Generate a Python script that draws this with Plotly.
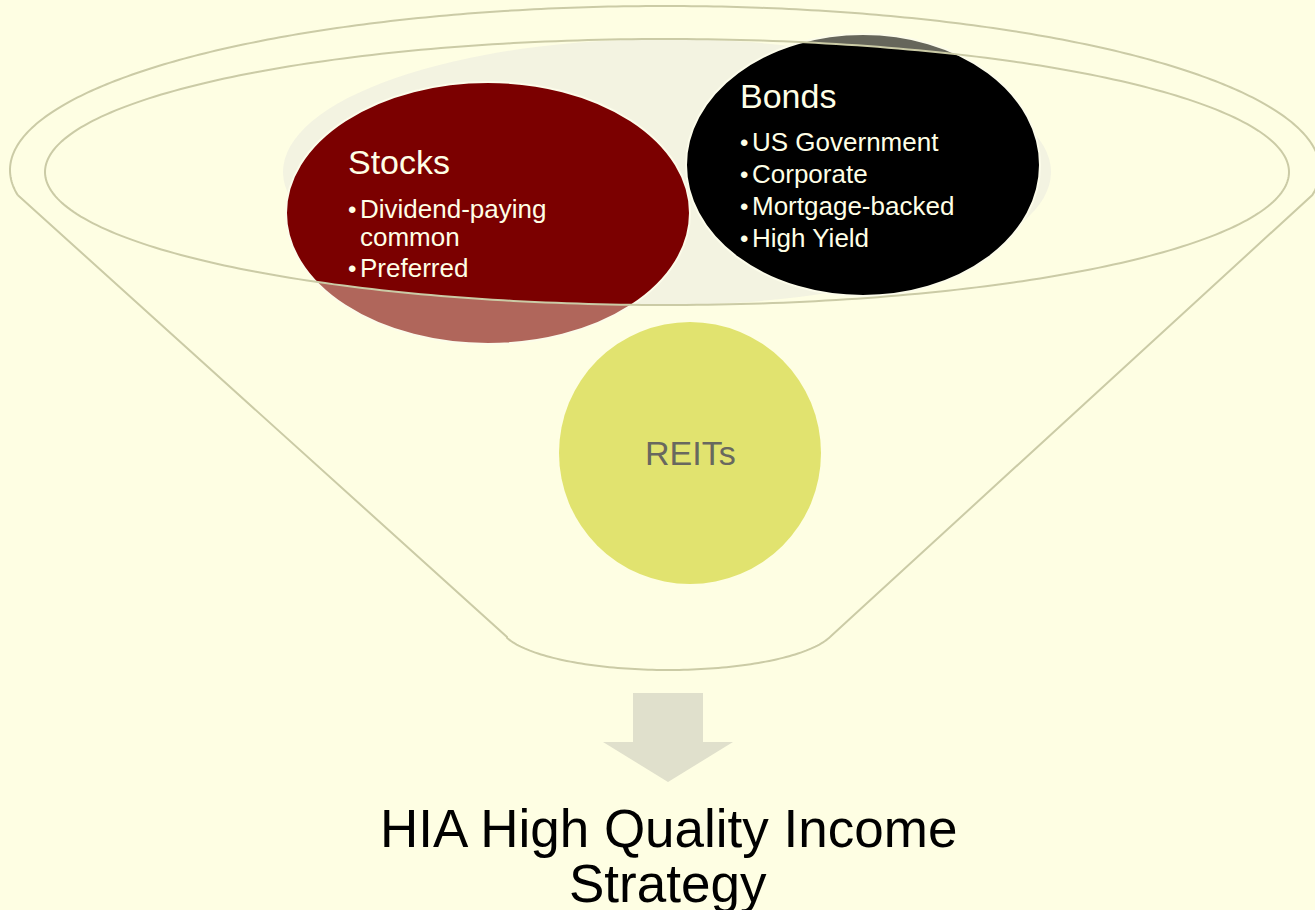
"""Funnel diagram: income strategy building blocks"""
import numpy as np
import plotly.graph_objects as go

W, H = 1315, 910
BG = "#FEFEE3"
LINE = "#CBCBA6"
CREAM = "#FFFFE6"
FONT = "Liberation Sans, Arial, sans-serif"

# text content
TITLE_LINES = ["HIA High Quality Income", "Strategy"]
STOCK_TITLE = "Stocks"
STOCK_LINES = ["Dividend-paying", "common", "Preferred"]
STOCK_BULLET = [True, False, True]
BOND_TITLE = "Bonds"
BOND_LINES = ["US Government", "Corporate", "Mortgage-backed", "High Yield"]
BOND_BULLET = [True, True, True, True]
REIT_LABEL = "REITs"

# geometry (cx, cy, rx, ry) in pixel space
OUTER = (665, 170, 655, 164)
INNER = (667, 172, 622, 133)
GLOW = (667, 172, 384, 133)
STOCKS = (488, 213, 202, 131)
BONDS = (863, 165, 177, 131)
REITS = (690, 453, 131, 131)
NECK = (668, 625, 168, 45)
JOIN_Y = 195
NECK_L, NECK_R = (507, 637), (830, 637)


def ell_pts(e, t0=0.0, t1=2 * np.pi, n=240):
    cx, cy, rx, ry = e
    t = np.linspace(t0, t1, n)
    return cx + rx * np.cos(t), cy + ry * np.sin(t)


def half_height(e, x):
    cx, cy, rx, ry = e
    u = np.clip((x - cx) / rx, -1, 1)
    return ry * np.sqrt(1 - u ** 2)


def to_path(xs, ys, close=True):
    p = "M " + " L ".join(f"{x:.2f},{y:.2f}" for x, y in zip(xs, ys))
    return p + (" Z" if close else "")


def ell_shape(e, fill, opacity=1.0, line_color=None, line_width=0):
    cx, cy, rx, ry = e
    return dict(type="circle", xref="x", yref="y", x0=cx - rx, x1=cx + rx,
                y0=cy - ry, y1=cy + ry, fillcolor=fill, opacity=opacity,
                line=dict(color=line_color or fill, width=line_width), layer="above")


shapes = []

# soft glow inside the funnel mouth
shapes.append(ell_shape(GLOW, "#F3F3E1"))

# funnel outline: outer rim arc, sides, neck
a = np.arcsin((JOIN_Y - OUTER[1]) / OUTER[3])
ox, oy = ell_pts(OUTER, np.pi - a, 2 * np.pi + a, 300)
nx, ny = ell_pts(NECK, 0.0, np.pi, 120)
mask = (nx <= NECK_R[0]) & (nx >= NECK_L[0])
fx = np.concatenate([ox, [NECK_R[0]], nx[mask], [NECK_L[0]], [ox[0]]])
fy = np.concatenate([oy, [NECK_R[1]], ny[mask], [NECK_L[1]], [oy[0]]])
shapes.append(dict(type="path", path=to_path(fx, fy, close=False), xref="x", yref="y",
                   line=dict(color=LINE, width=2), layer="above"))

# stocks: faded full ellipse, then the part inside the funnel mouth
shapes.append(ell_shape(STOCKS, "#7B0000", 0.6))
sx, sy = ell_pts(STOCKS)
sy = np.minimum(sy, INNER[1] + half_height(INNER, sx))
shapes.append(dict(type="path", path=to_path(sx, sy), xref="x", yref="y",
                   fillcolor="#7B0000", line=dict(width=0), layer="above"))
shapes.append(ell_shape(STOCKS, "rgba(0,0,0,0)", 1, "#FCFCEA", 2))

# bonds
shapes.append(ell_shape(BONDS, "#000000", 0.6))
bx, by = ell_pts(BONDS)
by = np.maximum(by, INNER[1] - half_height(INNER, bx))
shapes.append(dict(type="path", path=to_path(bx, by), xref="x", yref="y",
                   fillcolor="#000000", line=dict(width=0), layer="above"))
shapes.append(ell_shape(BONDS, "rgba(0,0,0,0)", 1, "#FCFCEA", 2))

# REITs
shapes.append(ell_shape(REITS, "#E1E36F"))

# inner rim of the funnel mouth drawn over the circles
ix, iy = ell_pts(INNER, 0, 2 * np.pi, 360)
shapes.append(dict(type="path", path=to_path(ix, iy), xref="x", yref="y",
                   line=dict(color=LINE, width=2), fillcolor="rgba(0,0,0,0)", layer="above"))

# arrow
ax_ = [633, 703, 703, 733, 668, 603, 633]
ay_ = [693, 693, 742, 742, 782, 742, 742]
shapes.append(dict(type="path", path=to_path(ax_, ay_), xref="x", yref="y",
                   fillcolor="#E0E0CC", line=dict(width=0), layer="above"))

annotations = []


def add_text(x, y, text, size, color, anchor="left"):
    annotations.append(dict(x=x, y=y, xref="x", yref="y", text=text, showarrow=False,
                            xanchor=anchor, yanchor="middle",
                            font=dict(family=FONT, size=size, color=color)))


def add_block(x, title_y, title, lines, bullets, line_ys):
    add_text(x - 2, title_y, title, 34, CREAM)
    for txt, b, y in zip(lines, bullets, line_ys):
        if b:
            add_text(x - 2, y, "•", 24, CREAM)
        add_text(x + 10, y, txt, 26, CREAM)


add_block(348, 162, STOCK_TITLE, STOCK_LINES, STOCK_BULLET, [209, 237, 268])
add_block(740, 96, BOND_TITLE, BOND_LINES, BOND_BULLET, [142, 174, 206, 238])
add_text(REITS[0], REITS[1], REIT_LABEL, 34, "#68685F", "center")
add_text(668, 828, TITLE_LINES[0], 53, "#000000", "center")
add_text(668, 883, TITLE_LINES[1], 53, "#000000", "center")

fig = go.Figure()
fig.update_layout(
    width=W, height=H, margin=dict(l=0, r=0, t=0, b=0),
    paper_bgcolor=BG, plot_bgcolor=BG, showlegend=False,
    xaxis=dict(range=[0, W], visible=False, fixedrange=True),
    yaxis=dict(range=[H, 0], visible=False, fixedrange=True),
    shapes=shapes, annotations=annotations,
)
fig.write_html("out.html", config={"displayModeBar": False},
               post_script="document.body.style.margin='0';document.body.style.overflow='hidden';")
